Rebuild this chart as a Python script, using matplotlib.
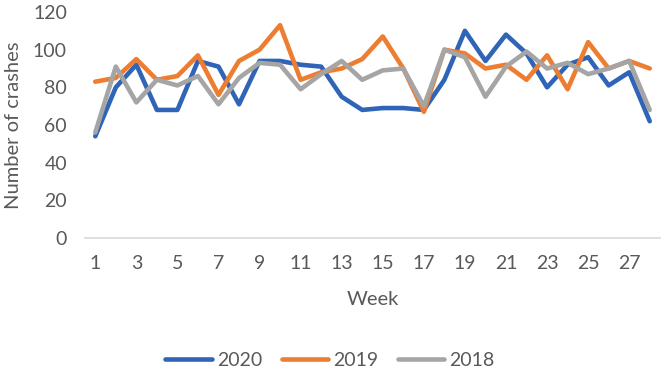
import matplotlib
matplotlib.use("Agg")
from matplotlib import pyplot as plt

weeks = list(range(1, 29))
y2020 = [54, 80, 92, 68, 68, 94, 91, 71, 94, 94, 92, 91, 75, 68,
         69, 69, 68, 84, 110, 94, 108, 98, 80, 92, 96, 81, 88, 62]
y2019 = [83, 85, 95, 84, 86, 97, 76, 94, 100, 113, 84, 88, 90, 95,
         107, 90, 67, 100, 98, 90, 92, 84, 97, 79, 104, 90, 94, 90]
y2018 = [56, 91, 72, 84, 81, 86, 71, 85, 93, 92, 79, 87, 94, 84,
         89, 90, 70, 100, 96, 75, 91, 99, 90, 93, 87, 90, 94, 68]
xticks = list(range(1, 29, 2))

plt.rcParams['font.family'] = ['Lato', 'DejaVu Sans']
txt = '#595959'

fig = plt.figure(figsize=(6.61, 3.76), dpi=100)
ax = fig.add_axes([85/661, 1 - 238/376, 575/661, 226/376])

ax.plot(weeks, y2020, color='#2F64B7', linewidth=3.3, label='2020', solid_capstyle='round')
ax.plot(weeks, y2019, color='#ED7D31', linewidth=3.3, label='2019', solid_capstyle='round')
ax.plot(weeks, y2018, color='#A5A5A5', linewidth=3.3, label='2018', solid_capstyle='round')

ax.set_xlim(0.5, 28.5)
ax.set_ylim(0, 120)
ax.set_yticks(range(0, 121, 20))
ax.set_xticks(xticks)
for s in ['top', 'right', 'left']:
    ax.spines[s].set_visible(False)
ax.spines['bottom'].set_color('#D9D9D9')
ax.spines['bottom'].set_linewidth(1.2)
ax.tick_params(axis='both', length=0, labelsize=14, colors=txt)
ax.tick_params(axis='x', pad=12)
ax.tick_params(axis='y', pad=13)
ax.set_xlabel('Week', fontsize=14.5, color=txt, labelpad=14)
ax.set_ylabel('Number of crashes', fontsize=14.5, color=txt, labelpad=8)

fig.legend(loc='center', bbox_to_anchor=(330/661, 1 - 360/376), ncol=3,
           frameon=False, fontsize=14, labelcolor=txt, handlelength=2.4,
           columnspacing=1.0, handletextpad=0.25)

fig.savefig('out.png', dpi=100)
